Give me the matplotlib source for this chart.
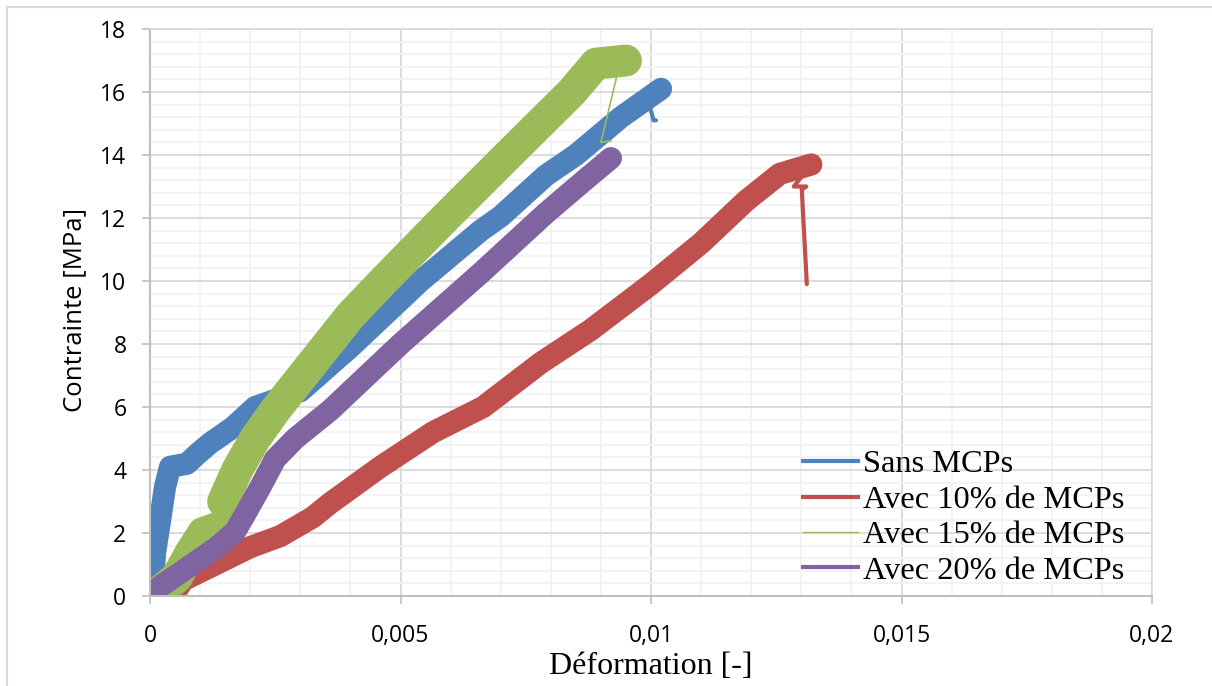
import matplotlib.pyplot as plt
from matplotlib.lines import Line2D
from matplotlib.ticker import MultipleLocator, FuncFormatter

# values (strain [-], stress [MPa])
# Sans MCPs
blue_x = [0.00005, 0.0001, 0.0002, 0.0003, 0.0004, 0.00074, 0.00094, 0.0012, 0.00166, 0.0021,
          0.003, 0.004, 0.005, 0.0054, 0.0066, 0.007, 0.0079, 0.0085, 0.0094, 0.0102]
blue_y = [0.2, 1.36, 2.4, 3.46, 4.1, 4.2, 4.5, 4.85, 5.36, 6.0,
          6.5, 7.9, 9.4, 10.0, 11.6, 12.05, 13.35, 14.0, 15.2, 16.1]
blue_tail_x = [0.0102, 0.00995, 0.01005, 0.0101]
blue_tail_y = [16.1, 15.7, 15.1, 15.1]

# Avec 10% de MCPs
red_x = [0.00005, 0.0005, 0.00066, 0.0013, 0.002, 0.0026, 0.00325, 0.0036, 0.0046, 0.00565,
         0.00665, 0.0078, 0.0088, 0.01, 0.011, 0.0119, 0.01257, 0.0132]
red_y = [0.05, 0.1, 0.5, 1.0, 1.55, 1.9, 2.5, 2.95, 4.1, 5.2,
         6.0, 7.4, 8.45, 9.9, 11.2, 12.55, 13.4, 13.7]
red_tail_x = [0.0132, 0.01285, 0.0131, 0.01301, 0.01311]
red_tail_y = [13.7, 13.0, 13.0, 12.9, 9.9]

# Avec 15% de MCPs
green_x = [0.0002, 0.00054, 0.0008, 0.00106, 0.0016, 0.0017, 0.00146, 0.00174, 0.0021, 0.0025,
           0.003, 0.0035, 0.004, 0.00466, 0.00589, 0.00715, 0.00842, 0.0089, 0.0095]
green_y = [0.15, 0.6, 1.35, 2.0, 2.3, 2.6, 3.0, 4.0, 5.0, 5.9,
           6.9, 7.9, 8.9, 10.0, 12.0, 14.0, 16.0, 16.9, 17.0]
green_tail_x = [0.0095, 0.0094, 0.0090, 0.0092]
green_tail_y = [17.0, 17.05, 14.4, 14.45]

# Avec 20% de MCPs
purple_x = [0.00005, 0.0002, 0.00066, 0.00134, 0.0017, 0.0019, 0.0022, 0.0025, 0.0029, 0.0036,
            0.005, 0.0066, 0.0079, 0.0086, 0.0092]
purple_y = [0.05, 0.3, 0.8, 1.55, 2.05, 2.6, 3.45, 4.35, 5.0, 5.9,
            8.0, 10.25, 12.15, 13.1, 13.9]

labels = ["Sans MCPs", "Avec 10% de MCPs", "Avec 15% de MCPs", "Avec 20% de MCPs"]
colors = ["#4F81BD", "#C0504D", "#9BBB59", "#8064A2"]

fig = plt.figure(figsize=(12.12, 6.86), dpi=100)
ax = fig.add_axes([150 / 1212, 90 / 686, 1002 / 1212, 567 / 686])

kw = dict(solid_capstyle="round", solid_joinstyle="round")
ax.plot(blue_x, blue_y, color=colors[0], lw=16, **kw)
ax.plot(blue_tail_x, blue_tail_y, color=colors[0], lw=3, **kw)
ax.plot(red_x, red_y, color=colors[1], lw=16, **kw)
ax.plot(red_tail_x, red_tail_y, color=colors[1], lw=3, **kw)
ax.plot(green_x, green_y, color=colors[2], lw=23, **kw)
ax.plot(green_tail_x, green_tail_y, color=colors[2], lw=1.2)
ax.plot(purple_x, purple_y, color=colors[3], lw=16, **kw)

ax.set_xlim(0, 0.02)
ax.set_ylim(0, 18)
ax.xaxis.set_major_locator(MultipleLocator(0.005))
ax.xaxis.set_minor_locator(MultipleLocator(0.001))
ax.yaxis.set_major_locator(MultipleLocator(2))
ax.yaxis.set_minor_locator(MultipleLocator(0.4))
ax.xaxis.set_major_formatter(FuncFormatter(lambda v, p: f"{v:g}".replace(".", ",")))

ax.set_axisbelow(True)
ax.grid(which="major", color="#D9D9D9", lw=1.3)
ax.grid(which="minor", color="#F2F2F2", lw=1.3)
for s in ["left", "bottom"]:
    ax.spines[s].set_color("#BFBFBF")
    ax.spines[s].set_linewidth(1.5)
for s in ["top", "right"]:
    ax.spines[s].set_color("#D9D9D9")
    ax.spines[s].set_linewidth(1.2)

ax.tick_params(which="major", length=6, width=1.2, color="#BFBFBF", labelsize=16.5)
ax.tick_params(which="minor", length=0)
ax.tick_params(axis="y", pad=11)
ax.tick_params(axis="x", pad=14)
for t in ax.get_xticklabels() + ax.get_yticklabels():
    t.set_fontfamily("Open Sans")

fig.text(75 / 1212, 1 - 310 / 686, "Contrainte [MPa]", rotation=90, ha="center", va="center",
         fontsize=18.5, family="Open Sans")
fig.text(651 / 1212, 1 - 666 / 686, "Déformation [-]", ha="center", va="center",
         fontsize=23, family="Liberation Serif")

handles = [Line2D([], [], color=colors[0], lw=3),
           Line2D([], [], color=colors[1], lw=3),
           Line2D([], [], color=colors[2], lw=1),
           Line2D([], [], color=colors[3], lw=3)]
ax.legend(handles, labels, loc="upper left", bbox_to_anchor=(0.652, 0.258), frameon=False,
          borderpad=0, borderaxespad=0, handlelength=1.7, handletextpad=0.15, labelspacing=0.18,
          prop={"family": "Liberation Serif", "size": 23.3})

# outer chart border
fig.add_artist(Line2D([7 / 1212, 7 / 1212, 1], [0, 1 - 7 / 686, 1 - 7 / 686],
                      color="#D9D9D9", lw=1.5, transform=fig.transFigure))

fig.savefig("out.png", dpi=100)
